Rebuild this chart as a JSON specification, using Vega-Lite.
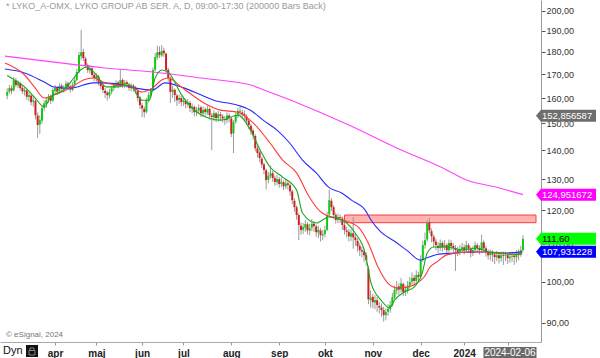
{
"$schema":"https://vega.github.io/schema/vega-lite/v6.json",
"width":541,"height":342,
"autosize":{"type":"none"},
"padding":{"left":0,"top":0,"right":59,"bottom":16},
"background":"white",
"config":{"view":{"stroke":null},"font":"Liberation Sans"},
"datasets":{
"candles":[
{"t":1,"o":161.0,"h":164.0,"l":159.5,"c":162.5},{"t":2,"o":162.6,"h":165.5,"l":161.8,"c":164.1},{"t":3,"o":164.0,"h":165.2,"l":161.5,"c":163.0},{"t":4,"o":163.2,"h":168.8,"l":162.6,"c":167.5},{"t":5,"o":167.3,"h":168.5,"l":164.5,"c":165.4},{"t":6,"o":165.2,"h":167.4,"l":164.0,"c":166.2},{"t":7,"o":166.0,"h":166.8,"l":163.0,"c":164.1},{"t":8,"o":164.2,"h":165.0,"l":161.6,"c":162.8},{"t":9,"o":162.6,"h":164.4,"l":161.0,"c":163.3},{"t":10,"o":163.1,"h":163.8,"l":159.2,"c":160.5},
{"t":11,"o":160.4,"h":162.5,"l":158.6,"c":161.2},{"t":12,"o":161.0,"h":161.6,"l":157.0,"c":158.3},{"t":13,"o":158.5,"h":160.8,"l":156.5,"c":159.1},{"t":14,"o":158.8,"h":159.5,"l":151.5,"c":153.1},{"t":15,"o":153.0,"h":154.2,"l":144.5,"c":149.3},{"t":16,"o":149.5,"h":153.0,"l":146.0,"c":151.2},{"t":17,"o":151.0,"h":157.0,"l":149.8,"c":155.9},{"t":18,"o":156.0,"h":159.0,"l":154.8,"c":157.8},{"t":19,"o":157.5,"h":160.2,"l":156.0,"c":159.1},{"t":20,"o":159.3,"h":161.6,"l":158.0,"c":160.4},
{"t":21,"o":160.6,"h":161.4,"l":157.6,"c":158.9},{"t":22,"o":159.0,"h":164.2,"l":158.4,"c":163.3},{"t":23,"o":163.0,"h":165.4,"l":161.9,"c":164.1},{"t":24,"o":164.3,"h":165.0,"l":161.2,"c":162.6},{"t":25,"o":162.8,"h":166.2,"l":161.8,"c":165.0},{"t":26,"o":165.2,"h":166.0,"l":162.5,"c":163.8},{"t":27,"o":163.6,"h":165.3,"l":162.2,"c":164.1},{"t":28,"o":164.0,"h":167.2,"l":163.2,"c":166.0},{"t":29,"o":166.1,"h":166.8,"l":163.4,"c":164.6},{"t":30,"o":164.8,"h":165.5,"l":162.3,"c":163.5},
{"t":31,"o":163.4,"h":166.6,"l":162.8,"c":165.4},{"t":32,"o":165.6,"h":169.0,"l":164.6,"c":167.5},{"t":33,"o":167.6,"h":172.5,"l":167.0,"c":171.0},{"t":34,"o":171.2,"h":180.0,"l":170.5,"c":178.6},{"t":35,"o":178.0,"h":190.5,"l":176.5,"c":179.9},{"t":36,"o":180.0,"h":181.5,"l":175.8,"c":177.2},{"t":37,"o":177.0,"h":177.8,"l":172.8,"c":174.1},{"t":38,"o":174.0,"h":174.8,"l":170.6,"c":171.9},{"t":39,"o":171.6,"h":174.0,"l":170.2,"c":172.8},{"t":40,"o":172.6,"h":173.4,"l":168.5,"c":169.7},
{"t":41,"o":169.8,"h":170.6,"l":167.0,"c":168.4},{"t":42,"o":168.2,"h":170.5,"l":166.8,"c":169.2},{"t":43,"o":169.0,"h":169.8,"l":165.2,"c":166.7},{"t":44,"o":166.5,"h":167.4,"l":163.6,"c":165.0},{"t":45,"o":165.2,"h":165.8,"l":162.0,"c":163.3},{"t":46,"o":163.0,"h":164.2,"l":160.0,"c":162.0},{"t":47,"o":162.2,"h":163.0,"l":159.0,"c":161.2},{"t":48,"o":161.0,"h":163.8,"l":159.8,"c":162.5},{"t":49,"o":162.6,"h":165.0,"l":161.6,"c":164.0},{"t":50,"o":164.2,"h":166.5,"l":163.0,"c":165.4},
{"t":51,"o":165.0,"h":167.4,"l":164.2,"c":166.3},{"t":52,"o":166.5,"h":167.2,"l":164.0,"c":165.2},{"t":53,"o":165.0,"h":172.0,"l":164.4,"c":167.5},{"t":54,"o":167.6,"h":168.2,"l":164.2,"c":165.4},{"t":55,"o":165.2,"h":167.6,"l":164.0,"c":166.4},{"t":56,"o":166.6,"h":167.4,"l":164.2,"c":165.8},{"t":57,"o":165.6,"h":166.4,"l":163.0,"c":164.2},{"t":58,"o":164.0,"h":166.2,"l":162.8,"c":165.0},{"t":59,"o":165.2,"h":165.8,"l":162.6,"c":164.0},{"t":60,"o":164.2,"h":165.0,"l":161.8,"c":163.3},
{"t":61,"o":163.0,"h":163.6,"l":158.6,"c":160.0},{"t":62,"o":160.2,"h":160.8,"l":155.6,"c":157.1},{"t":63,"o":157.0,"h":158.0,"l":152.4,"c":155.8},{"t":64,"o":155.6,"h":156.6,"l":152.2,"c":154.3},{"t":65,"o":154.5,"h":160.0,"l":153.8,"c":159.1},{"t":66,"o":159.0,"h":162.4,"l":158.2,"c":161.2},{"t":67,"o":161.0,"h":164.2,"l":160.2,"c":163.0},{"t":68,"o":163.2,"h":173.0,"l":162.6,"c":171.9},{"t":69,"o":172.0,"h":179.5,"l":171.2,"c":177.7},{"t":70,"o":177.5,"h":183.0,"l":176.4,"c":179.9},
{"t":71,"o":180.0,"h":182.6,"l":177.2,"c":178.6},{"t":72,"o":178.4,"h":183.2,"l":177.6,"c":180.5},{"t":73,"o":180.6,"h":182.0,"l":177.8,"c":179.4},{"t":74,"o":179.2,"h":179.8,"l":170.6,"c":171.9},{"t":75,"o":172.0,"h":172.8,"l":166.8,"c":168.4},{"t":76,"o":168.2,"h":169.0,"l":158.0,"c":162.5},{"t":77,"o":162.6,"h":165.0,"l":160.0,"c":163.5},{"t":78,"o":163.4,"h":164.0,"l":158.4,"c":161.2},{"t":79,"o":161.0,"h":161.8,"l":156.8,"c":159.1},{"t":80,"o":159.2,"h":161.4,"l":157.6,"c":160.0},
{"t":81,"o":160.0,"h":160.8,"l":156.6,"c":158.3},{"t":82,"o":158.4,"h":160.2,"l":156.8,"c":159.0},{"t":83,"o":158.8,"h":159.6,"l":155.8,"c":157.5},{"t":84,"o":157.4,"h":159.6,"l":156.2,"c":158.2},{"t":85,"o":158.0,"h":158.8,"l":154.4,"c":155.9},{"t":86,"o":155.8,"h":157.8,"l":153.8,"c":156.5},{"t":87,"o":156.4,"h":157.0,"l":152.6,"c":154.3},{"t":88,"o":154.2,"h":156.4,"l":152.8,"c":155.1},{"t":89,"o":155.0,"h":157.4,"l":153.6,"c":156.0},{"t":90,"o":156.2,"h":156.8,"l":152.4,"c":153.9},
{"t":91,"o":153.8,"h":156.6,"l":152.6,"c":155.2},{"t":92,"o":155.4,"h":156.2,"l":152.8,"c":154.3},{"t":93,"o":154.2,"h":157.0,"l":153.2,"c":155.6},{"t":94,"o":155.6,"h":156.2,"l":151.4,"c":153.1},{"t":95,"o":153.0,"h":154.0,"l":140.0,"c":152.4},{"t":96,"o":152.2,"h":155.0,"l":150.8,"c":153.9},{"t":97,"o":153.8,"h":154.4,"l":150.4,"c":152.0},{"t":98,"o":152.0,"h":154.8,"l":150.6,"c":153.5},{"t":99,"o":153.4,"h":154.4,"l":151.0,"c":152.8},{"t":100,"o":152.6,"h":153.6,"l":150.2,"c":151.8},
{"t":101,"o":151.6,"h":152.8,"l":149.4,"c":151.2},{"t":102,"o":151.2,"h":154.2,"l":150.0,"c":153.0},{"t":103,"o":153.0,"h":153.8,"l":150.4,"c":152.0},{"t":104,"o":151.8,"h":152.4,"l":144.8,"c":146.0},{"t":105,"o":146.2,"h":151.2,"l":139.0,"c":150.4},{"t":106,"o":150.6,"h":154.2,"l":149.8,"c":153.1},{"t":107,"o":153.0,"h":156.0,"l":152.0,"c":154.8},{"t":108,"o":154.6,"h":156.4,"l":152.8,"c":154.3},{"t":109,"o":154.2,"h":155.4,"l":152.2,"c":153.5},{"t":110,"o":153.6,"h":155.0,"l":151.4,"c":152.8},
{"t":111,"o":152.6,"h":153.4,"l":149.6,"c":151.0},{"t":112,"o":151.0,"h":151.8,"l":147.8,"c":149.3},{"t":113,"o":149.0,"h":149.8,"l":145.6,"c":147.0},{"t":114,"o":147.2,"h":148.0,"l":143.8,"c":145.5},{"t":115,"o":145.2,"h":145.8,"l":139.6,"c":140.7},{"t":116,"o":140.6,"h":141.6,"l":137.4,"c":139.0},{"t":117,"o":139.2,"h":139.8,"l":135.8,"c":137.2},{"t":118,"o":137.0,"h":137.6,"l":133.8,"c":135.0},{"t":119,"o":135.0,"h":135.6,"l":131.6,"c":133.1},{"t":120,"o":133.0,"h":133.6,"l":126.6,"c":129.7},
{"t":121,"o":129.8,"h":132.4,"l":128.6,"c":131.1},{"t":122,"o":131.0,"h":134.6,"l":130.2,"c":132.0},{"t":123,"o":132.0,"h":132.8,"l":129.2,"c":130.4},{"t":124,"o":130.4,"h":131.2,"l":127.8,"c":129.1},{"t":125,"o":129.0,"h":131.4,"l":128.0,"c":130.0},{"t":126,"o":130.0,"h":130.8,"l":127.2,"c":128.4},{"t":127,"o":128.4,"h":130.6,"l":127.4,"c":129.0},{"t":128,"o":129.0,"h":129.6,"l":126.4,"c":127.7},{"t":129,"o":127.6,"h":130.0,"l":126.8,"c":128.6},{"t":130,"o":128.6,"h":129.6,"l":126.6,"c":128.1},
{"t":131,"o":128.0,"h":128.6,"l":124.6,"c":126.0},{"t":132,"o":126.0,"h":126.6,"l":122.0,"c":123.2},{"t":133,"o":123.0,"h":123.8,"l":119.6,"c":121.0},{"t":134,"o":121.0,"h":121.6,"l":117.2,"c":118.6},{"t":135,"o":118.6,"h":119.2,"l":111.2,"c":115.6},{"t":136,"o":115.4,"h":116.4,"l":112.8,"c":114.1},{"t":137,"o":114.2,"h":116.2,"l":113.0,"c":115.0},{"t":138,"o":114.8,"h":117.0,"l":113.6,"c":115.9},{"t":139,"o":115.8,"h":116.4,"l":112.8,"c":114.0},{"t":140,"o":114.0,"h":116.0,"l":112.6,"c":114.7},
{"t":141,"o":114.8,"h":117.4,"l":113.8,"c":116.0},{"t":142,"o":116.0,"h":116.8,"l":113.6,"c":115.3},{"t":143,"o":115.2,"h":115.8,"l":112.2,"c":113.5},{"t":144,"o":113.4,"h":115.4,"l":111.8,"c":114.2},{"t":145,"o":114.0,"h":114.8,"l":110.8,"c":112.6},{"t":146,"o":112.6,"h":114.2,"l":111.2,"c":113.0},{"t":147,"o":113.0,"h":115.4,"l":112.0,"c":114.1},{"t":148,"o":114.2,"h":119.6,"l":113.8,"c":118.6},{"t":149,"o":118.8,"h":126.6,"l":118.2,"c":123.2},{"t":150,"o":123.0,"h":123.8,"l":119.8,"c":121.0},
{"t":151,"o":121.0,"h":121.6,"l":117.4,"c":118.6},{"t":152,"o":118.6,"h":119.4,"l":116.0,"c":117.1},{"t":153,"o":117.2,"h":119.0,"l":116.2,"c":118.0},{"t":154,"o":118.0,"h":118.8,"l":116.2,"c":117.7},{"t":155,"o":117.6,"h":118.2,"l":114.2,"c":115.6},{"t":156,"o":115.6,"h":116.4,"l":112.8,"c":114.1},{"t":157,"o":114.0,"h":115.0,"l":112.0,"c":113.6},{"t":158,"o":113.6,"h":114.4,"l":110.8,"c":112.3},{"t":159,"o":112.2,"h":114.4,"l":111.0,"c":113.2},{"t":160,"o":113.2,"h":118.0,"l":108.8,"c":112.0},
{"t":161,"o":112.0,"h":113.0,"l":109.6,"c":111.2},{"t":162,"o":111.0,"h":111.8,"l":108.0,"c":109.5},{"t":163,"o":109.6,"h":110.4,"l":106.8,"c":108.4},{"t":164,"o":108.4,"h":109.4,"l":106.4,"c":108.0},{"t":165,"o":108.0,"h":108.8,"l":105.2,"c":107.0},{"t":166,"o":107.0,"h":107.8,"l":104.2,"c":105.7},{"t":167,"o":103.4,"h":104.2,"l":94.4,"c":95.6},{"t":168,"o":95.4,"h":97.8,"l":93.6,"c":96.0},{"t":169,"o":96.2,"h":97.0,"l":93.4,"c":94.9},{"t":170,"o":94.8,"h":96.6,"l":93.2,"c":95.4},
{"t":171,"o":95.4,"h":96.2,"l":92.6,"c":94.2},{"t":172,"o":94.0,"h":95.0,"l":92.2,"c":93.6},{"t":173,"o":93.6,"h":94.6,"l":91.4,"c":93.0},{"t":174,"o":93.0,"h":93.8,"l":90.3,"c":91.8},{"t":175,"o":91.8,"h":93.4,"l":90.6,"c":92.5},{"t":176,"o":92.6,"h":94.4,"l":91.6,"c":93.3},{"t":177,"o":93.2,"h":95.2,"l":92.4,"c":94.2},{"t":178,"o":94.2,"h":97.2,"l":93.8,"c":96.1},{"t":179,"o":96.0,"h":99.0,"l":95.6,"c":97.9},{"t":180,"o":97.8,"h":100.2,"l":96.8,"c":98.6},
{"t":181,"o":98.8,"h":99.6,"l":96.6,"c":98.0},{"t":182,"o":98.0,"h":101.0,"l":97.2,"c":99.6},{"t":183,"o":99.4,"h":99.8,"l":96.4,"c":97.4},{"t":184,"o":97.4,"h":99.0,"l":96.4,"c":97.9},{"t":185,"o":97.8,"h":100.2,"l":97.0,"c":99.0},{"t":186,"o":99.0,"h":101.2,"l":98.2,"c":99.9},{"t":187,"o":100.0,"h":102.4,"l":99.2,"c":100.9},{"t":188,"o":101.0,"h":101.8,"l":99.0,"c":100.2},{"t":189,"o":100.2,"h":103.0,"l":99.6,"c":101.7},{"t":190,"o":101.8,"h":102.6,"l":100.0,"c":101.2},
{"t":191,"o":101.2,"h":107.0,"l":100.6,"c":105.7},{"t":192,"o":105.8,"h":111.0,"l":105.2,"c":109.8},{"t":193,"o":109.8,"h":113.4,"l":108.8,"c":111.2},{"t":194,"o":111.4,"h":117.0,"l":110.8,"c":116.2},{"t":195,"o":116.4,"h":117.8,"l":113.2,"c":114.0},{"t":196,"o":113.8,"h":114.6,"l":110.6,"c":112.3},{"t":197,"o":112.2,"h":112.8,"l":109.2,"c":110.8},{"t":198,"o":110.8,"h":111.6,"l":108.4,"c":109.8},{"t":199,"o":109.6,"h":110.6,"l":107.6,"c":109.0},{"t":200,"o":109.0,"h":111.4,"l":108.2,"c":110.4},
{"t":201,"o":110.4,"h":111.0,"l":108.0,"c":109.2},{"t":202,"o":109.2,"h":111.2,"l":108.4,"c":109.8},{"t":203,"o":109.8,"h":110.4,"l":107.2,"c":108.4},{"t":204,"o":108.4,"h":111.4,"l":107.8,"c":110.4},{"t":205,"o":110.4,"h":111.2,"l":108.4,"c":109.5},{"t":206,"o":109.6,"h":110.4,"l":107.8,"c":109.0},{"t":207,"o":109.0,"h":109.8,"l":102.8,"c":108.4},{"t":208,"o":108.4,"h":109.4,"l":106.8,"c":107.9},{"t":209,"o":107.8,"h":109.8,"l":107.0,"c":108.6},{"t":210,"o":108.6,"h":110.4,"l":107.8,"c":109.2},
{"t":211,"o":109.2,"h":110.0,"l":107.2,"c":108.4},{"t":212,"o":108.4,"h":111.0,"l":107.8,"c":109.8},{"t":213,"o":109.8,"h":110.4,"l":107.6,"c":108.8},{"t":214,"o":108.8,"h":109.4,"l":106.4,"c":107.6},{"t":215,"o":107.6,"h":109.6,"l":106.8,"c":108.4},{"t":216,"o":108.4,"h":110.8,"l":107.8,"c":109.8},{"t":217,"o":109.8,"h":110.4,"l":108.0,"c":109.0},{"t":218,"o":109.0,"h":109.8,"l":107.2,"c":108.4},{"t":219,"o":108.4,"h":112.8,"l":108.0,"c":110.6},{"t":220,"o":110.6,"h":111.2,"l":108.0,"c":108.9},
{"t":221,"o":108.9,"h":109.6,"l":106.6,"c":107.9},{"t":222,"o":107.8,"h":108.6,"l":105.8,"c":107.0},{"t":223,"o":107.0,"h":108.6,"l":105.6,"c":107.6},{"t":224,"o":107.6,"h":108.4,"l":105.2,"c":107.2},{"t":225,"o":107.2,"h":108.0,"l":104.6,"c":106.5},{"t":226,"o":106.4,"h":108.2,"l":105.4,"c":107.0},{"t":227,"o":107.0,"h":107.8,"l":104.8,"c":106.2},{"t":228,"o":106.2,"h":108.0,"l":105.2,"c":107.0},{"t":229,"o":107.0,"h":108.0,"l":104.4,"c":106.8},{"t":230,"o":106.8,"h":108.0,"l":105.4,"c":107.0},
{"t":231,"o":107.0,"h":107.6,"l":104.6,"c":106.2},{"t":232,"o":106.2,"h":107.8,"l":105.0,"c":106.6},{"t":233,"o":106.6,"h":108.0,"l":105.2,"c":106.8},{"t":234,"o":106.8,"h":107.6,"l":104.4,"c":106.5},{"t":235,"o":106.4,"h":108.4,"l":105.0,"c":107.0},{"t":236,"o":107.0,"h":108.6,"l":105.6,"c":107.4},{"t":237,"o":107.4,"h":109.6,"l":106.6,"c":108.4},{"t":238,"o":108.4,"h":112.6,"l":108.0,"c":111.6}
],
"magenta":[{"t":0,"v":178.1},{"t":22.5,"v":175.4},{"t":45,"v":172.9},{"t":68,"v":171.0},{"t":90,"v":168.4},{"t":113,"v":165.4},{"t":119,"v":163.3},{"t":135,"v":157.8},{"t":158,"v":149.3},{"t":180,"v":140.8},{"t":203,"v":133.1},{"t":212,"v":129.7},{"t":225.5,"v":127.4},{"t":238,"v":124.95}],
"blue":[{"t":0,"v":172.3},{"t":9,"v":170.6},{"t":18,"v":166.7},{"t":22.5,"v":164.6},{"t":30,"v":164.1},{"t":40.6,"v":166.3},{"t":45,"v":166.3},{"t":54,"v":165.4},{"t":60,"v":164.1},{"t":67.7,"v":163.3},{"t":73.5,"v":166.3},{"t":82.5,"v":164.1},{"t":90.2,"v":161.2},{"t":96,"v":159.1},{"t":106.9,"v":157.1},{"t":112.8,"v":155.1},{"t":118.6,"v":151.2},{"t":125,"v":147.4},{"t":130.8,"v":142.6},{"t":136.7,"v":136.5},{"t":143,"v":132.1},{"t":148.8,"v":127.3},{"t":154.7,"v":125.5},{"t":159.2,"v":123.2},{"t":165.5,"v":120.1},{"t":168.2,"v":117.1},{"t":172.8,"v":113.5},{"t":179,"v":110.9},{"t":185,"v":108.2},{"t":190.8,"v":105.7},{"t":194,"v":106.3},{"t":198.5,"v":107.2},{"t":206,"v":107.6},{"t":213.4,"v":107.9},{"t":221,"v":107.9},{"t":228.7,"v":107.6},{"t":237.7,"v":107.93}],
"red":[{"t":0,"v":175.0},{"t":9,"v":169.7},{"t":13.5,"v":164.6},{"t":18,"v":160.0},{"t":22.5,"v":161.2},{"t":30,"v":164.1},{"t":36,"v":167.5},{"t":40.6,"v":168.4},{"t":45,"v":166.7},{"t":51,"v":165.4},{"t":57,"v":165.0},{"t":63,"v":162.5},{"t":67.7,"v":164.1},{"t":72,"v":167.5},{"t":75,"v":168.4},{"t":81,"v":164.6},{"t":91.6,"v":157.9},{"t":99,"v":155.1},{"t":107,"v":154.3},{"t":114,"v":150.1},{"t":121.8,"v":142.6},{"t":127.6,"v":136.5},{"t":134,"v":132.1},{"t":139.8,"v":124.2},{"t":145.7,"v":119.2},{"t":152,"v":117.7},{"t":157.9,"v":116.5},{"t":162.4,"v":115.0},{"t":166.9,"v":110.4},{"t":171.4,"v":103.8},{"t":175.9,"v":99.65},{"t":180.4,"v":98.4},{"t":184.9,"v":98.6},{"t":189.4,"v":99.65},{"t":192.6,"v":101.2},{"t":195.3,"v":103.8},{"t":198.5,"v":105.2},{"t":203,"v":107.1},{"t":207.5,"v":107.6},{"t":213.3,"v":107.9},{"t":221,"v":107.9},{"t":228.7,"v":107.4},{"t":237.7,"v":107.3}],
"green":[{"t":1,"v":169.5},{"t":4.5,"v":167.5},{"t":9,"v":164.6},{"t":13.5,"v":160.4},{"t":18,"v":156.4},{"t":21,"v":160.4},{"t":27,"v":163.3},{"t":31.6,"v":168.4},{"t":34.7,"v":171.9},{"t":37.4,"v":173.2},{"t":42,"v":169.7},{"t":46.5,"v":164.6},{"t":51,"v":164.6},{"t":57.3,"v":165.4},{"t":63,"v":159.1},{"t":66.3,"v":159.1},{"t":69,"v":168.4},{"t":72.2,"v":171.9},{"t":75.3,"v":170.6},{"t":81.2,"v":161.2},{"t":88.9,"v":153.9},{"t":99.2,"v":151.2},{"t":107,"v":153.1},{"t":112.8,"v":147.4},{"t":117.3,"v":140.0},{"t":121.8,"v":134.1},{"t":127.6,"v":130.7},{"t":134,"v":126.4},{"t":136.7,"v":119.2},{"t":143,"v":116.2},{"t":148.8,"v":118.0},{"t":154.7,"v":117.1},{"t":161,"v":113.2},{"t":165.5,"v":107.6},{"t":168.2,"v":99.65},{"t":172.8,"v":95.4},{"t":176.8,"v":93.5},{"t":179,"v":95.4},{"t":183.6,"v":97.4},{"t":188,"v":98.6},{"t":191.7,"v":102.2},{"t":194,"v":107.6},{"t":197,"v":109.3},{"t":203,"v":109.3},{"t":210.6,"v":108.4},{"t":216.5,"v":109.0},{"t":222.4,"v":107.9},{"t":228.7,"v":107.6},{"t":234.5,"v":107.1},{"t":237.7,"v":107.9}],
"band":[{"t1":156,"t2":244,"lo":116.3,"hi":118.6}],
"tags":[{"name":"gray","v":152.856587,"label":"152,856587"},{"name":"magenta","v":124.951672,"label":"124,951672"},{"name":"green","v":111.6,"label":"111,60"},{"name":"blue","v":107.931228,"label":"107,931228"}]
},
"layer":[
{"data":{"name":"band"},"mark":{"type":"rect","fill":"#ff9a9a","fillOpacity":0.75,"stroke":"#ff3c3c","strokeWidth":1},
 "encoding":{"x":{"field":"t1","type":"quantitative","scale":{"domain":[0,244],"nice":false,"zero":false},
   "axis":{"orient":"bottom","values":[23,42,63,82,104,126,147,169,191,211,231],"labelExpr":"['apr','maj','jun','jul','aug','sep','okt','nov','dec','2024',''][indexof([23,42,63,82,104,126,147,169,191,211,231], datum.value)]","labelFontWeight":"bold","labelFontSize":10,"labelColor":"#222","tickSize":3,"tickColor":"#999","domainColor":"#aaa","labelPadding":3,"grid":false,"title":null,"labelFlush":false,"labelOverlap":false}},
  "x2":{"field":"t2"},
  "y":{"field":"lo","type":"quantitative","scale":{"type":"log","domain":[85.7,205.6],"nice":false},
   "axis":{"orient":"right","values":[90,100,110,120,130,140,150,160,170,180,190,200],"labelExpr":"replace(format(datum.value,'.2f'),'.',',')","labelFontSize":9,"labelColor":"#333","tickSize":4,"tickColor":"#555","domainColor":"#999","labelPadding":1,"grid":false,"title":null,"labelFlush":false,"labelOverlap":false}},
  "y2":{"field":"hi"}}},
{"data":{"name":"candles"},"mark":{"type":"rule","color":"#9a9a9a","strokeWidth":1},
 "encoding":{"x":{"field":"t","type":"quantitative"},"y":{"field":"l","type":"quantitative"},"y2":{"field":"h"}}},
{"data":{"name":"candles"},"mark":{"type":"bar","width":2},
 "encoding":{"x":{"field":"t","type":"quantitative"},"y":{"field":"o","type":"quantitative"},"y2":{"field":"c"},
  "color":{"condition":{"test":"datum.c >= datum.o","value":"#14c814"},"value":"#cc2222"}}},
{"data":{"name":"magenta"},"mark":{"type":"line","color":"#ff40ff","strokeWidth":1.1,"interpolate":"monotone"},
 "encoding":{"x":{"field":"t","type":"quantitative"},"y":{"field":"v","type":"quantitative"}}},
{"data":{"name":"blue"},"mark":{"type":"line","color":"#2a2aff","strokeWidth":1.1,"interpolate":"monotone"},
 "encoding":{"x":{"field":"t","type":"quantitative"},"y":{"field":"v","type":"quantitative"}}},
{"data":{"name":"red"},"mark":{"type":"line","color":"#ff3a3a","strokeWidth":1.1,"interpolate":"monotone"},
 "encoding":{"x":{"field":"t","type":"quantitative"},"y":{"field":"v","type":"quantitative"}}},
{"data":{"name":"green"},"mark":{"type":"line","color":"#1aa81a","strokeWidth":1.1,"interpolate":"monotone"},
 "encoding":{"x":{"field":"t","type":"quantitative"},"y":{"field":"v","type":"quantitative"}}},
{"data":{"name":"tags"},"mark":{"type":"point","shape":"M0,0L0.083,-0.1L1,-0.1L1,0.1L0.083,0.1Z","size":14400,"filled":true,"opacity":1,"strokeWidth":0},
 "encoding":{"x":{"datum":244,"type":"quantitative"},"y":{"field":"v","type":"quantitative"},
  "fill":{"field":"name","type":"nominal","scale":{"domain":["gray","magenta","green","blue"],"range":["#6e6e6e","#ff00ff","#00ff00","#0000ff"]},"legend":null}}},
{"data":{"name":"tags"},"mark":{"type":"text","align":"left","baseline":"middle","dx":6,"fontSize":9.5},
 "encoding":{"x":{"datum":244,"type":"quantitative"},"y":{"field":"v","type":"quantitative"},
  "text":{"field":"label"},
  "color":{"field":"name","type":"nominal","scale":{"domain":["gray","magenta","green","blue"],"range":["#ffffff","#ffffff","#000000","#ffffff"]},"legend":null}}},
{"data":{"values":[{"txt":"* LYKO_A-OMX, LYKO GROUP AB SER. A, D, 09:00-17:30 (200000 Bars Back)"}]},"mark":{"type":"text","align":"left","baseline":"top","dx":1,"dy":2,"fontSize":9,"color":"#9a9a9a"},
 "encoding":{"x":{"datum":0,"type":"quantitative"},"y":{"datum":205.6,"type":"quantitative"},"text":{"field":"txt"}}},
{"data":{"values":[{"txt":"© eSignal, 2024"}]},"mark":{"type":"text","align":"left","baseline":"alphabetic","dx":1,"dy":-5,"fontSize":8,"color":"#777"},
 "encoding":{"x":{"datum":0,"type":"quantitative"},"y":{"datum":85.7,"type":"quantitative"},"text":{"field":"txt"}}},
{"data":{"values":[{"txt":"Dyn"}]},"mark":{"type":"text","align":"left","baseline":"middle","dx":-2,"dy":9,"fontSize":11,"color":"#111"},
 "encoding":{"x":{"datum":0,"type":"quantitative"},"y":{"datum":85.7,"type":"quantitative"},"text":{"field":"txt"}}},
{"data":{"values":[{"k":"icon"}]},"mark":{"type":"point","shape":"M-0.6,0.3L0.6,0.3L0.6,1.5L-0.6,1.5Z","size":400,"filled":true,"opacity":1,"color":"#111","strokeWidth":0},
 "encoding":{"x":{"datum":12.4,"type":"quantitative"},"y":{"datum":85.7,"type":"quantitative"}}},
{"data":{"values":[{"k":"lock"}]},"mark":{"type":"point","shape":"M-0.3,0.85L0.3,0.85L0.3,1.3L-0.3,1.3ZM-0.2,0.85L-0.2,0.6L0.2,0.6L0.2,0.85","size":400,"filled":false,"opacity":1,"stroke":"#888","strokeWidth":1},
 "encoding":{"x":{"datum":12.4,"type":"quantitative"},"y":{"datum":85.7,"type":"quantitative"}}},
{"data":{"values":[{"k":"datebox"}]},"mark":{"type":"point","shape":"M-0.807,0.167L0.96,0.167L0.96,0.56L-0.807,0.56Z","size":3600,"filled":true,"opacity":1,"color":"#6a6a6a","strokeWidth":0},
 "encoding":{"x":{"datum":231,"type":"quantitative"},"y":{"datum":85.7,"type":"quantitative"}}},
{"data":{"values":[{"txt":"2024-02-06"}]},"mark":{"type":"text","align":"center","baseline":"middle","dx":2.3,"dy":11,"fontSize":10,"color":"#ffffff"},
 "encoding":{"x":{"datum":231,"type":"quantitative"},"y":{"datum":85.7,"type":"quantitative"},"text":{"field":"txt"}}}
]
}
